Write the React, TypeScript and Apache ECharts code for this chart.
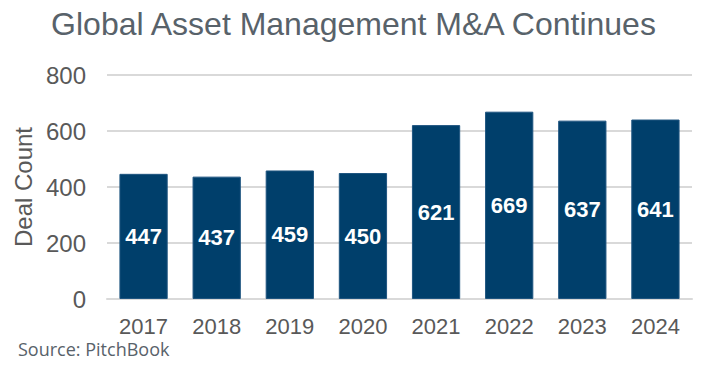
import React, { useEffect, useRef } from "react";
import * as echarts from "echarts";

const categories = ["2017", "2018", "2019", "2020", "2021", "2022", "2023", "2024"];
const dealCounts = [447, 437, 459, 450, 621, 669, 637, 641];

export default function App() {
  const ref = useRef<HTMLDivElement>(null);
  useEffect(() => {
    const chart = echarts.init(ref.current!, null, { renderer: "svg" });
    chart.setOption({
      animation: false,
      title: {
        text: "Global Asset Management M&A Continues",
        left: "center",
        top: 3,
        textStyle: { fontFamily: "Liberation Sans", fontSize: 32, fontWeight: "normal", color: "#58626a" },
      },
      graphic: [
        {
          type: "text",
          left: 18,
          top: 340,
          style: { text: "Source: PitchBook", fontFamily: "Open Sans", fontSize: 18, fill: "#58626a" },
        },
      ],
      grid: { left: 107, right: 15, top: 75, bottom: 77 },
      xAxis: {
        type: "category",
        data: categories,
        axisTick: { show: false },
        axisLine: { lineStyle: { color: "#d9d9d9", width: 2 } },
        axisLabel: { fontFamily: "Liberation Sans", fontSize: 22, color: "#595959", margin: 16 },
      },
      yAxis: {
        type: "value",
        min: 0,
        max: 800,
        interval: 200,
        name: "Deal Count",
        nameLocation: "middle",
        nameGap: 70,
        nameTextStyle: { fontFamily: "Liberation Sans", fontSize: 24, color: "#595959" },
        axisLabel: { fontFamily: "Liberation Sans", fontSize: 24, color: "#595959", margin: 21 },
        splitLine: { lineStyle: { color: "#d9d9d9", width: 2 } },
      },
      series: [
        {
          type: "bar",
          data: dealCounts,
          barWidth: "66%",
          itemStyle: { color: "#003F6B", borderColor: "#1f5580", borderWidth: 1 },
          label: {
            show: true,
            position: "inside",
            fontFamily: "Liberation Sans",
            fontWeight: "bold",
            fontSize: 22,
            color: "#ffffff",
          },
        },
      ],
    });
    return () => chart.dispose();
  }, []);
  return <div ref={ref} style={{ width: 707, height: 376, position: "absolute", left: 0, top: 0 }} />;
}
